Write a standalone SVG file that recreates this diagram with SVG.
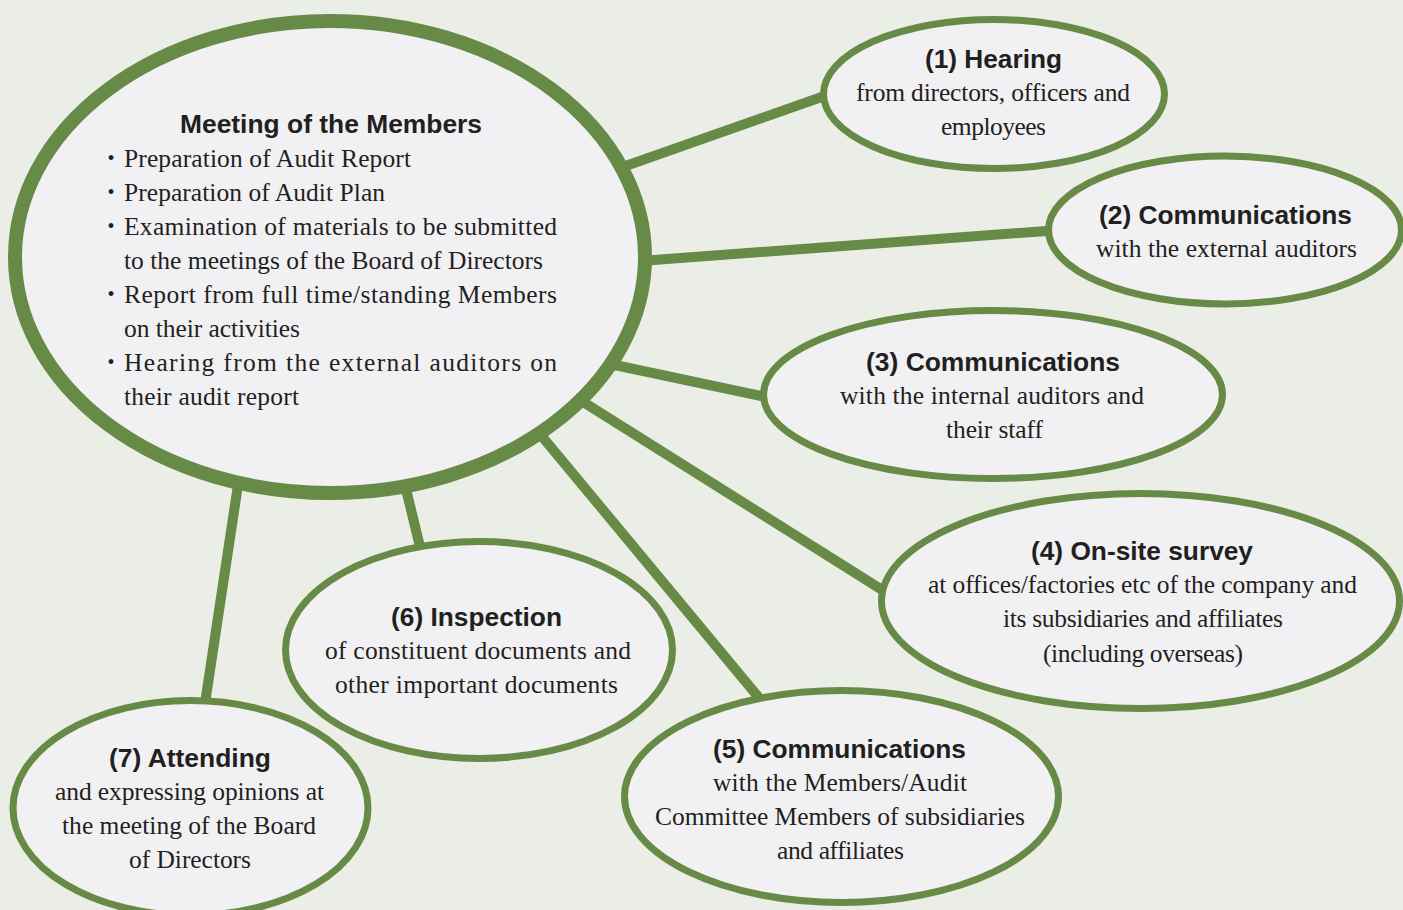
<svg xmlns="http://www.w3.org/2000/svg" width="1403" height="910" viewBox="0 0 1403 910">
<style>
.bg{fill:#ebeee6}
.node{fill:#f1f1f3;stroke:#678a46;stroke-width:7}
.main{stroke-width:14}
.conn line{stroke:#678a46;stroke-width:10;stroke-linecap:butt}
.t{font-family:"Liberation Sans",Arial,sans-serif;font-weight:bold;font-size:26px;fill:#231f20;text-anchor:middle}
.b{font-family:"Liberation Serif","Times New Roman",serif;font-size:25.5px;fill:#231f20;text-anchor:middle}
.l{font-family:"Liberation Serif","Times New Roman",serif;font-size:25.5px;fill:#231f20}
.dot{font-family:"Liberation Serif","Times New Roman",serif;font-size:20px;fill:#231f20;text-anchor:middle}
</style>
<rect class="bg" x="0" y="0" width="1403" height="910"/>
<g id="connectors" class="conn">
<line x1="600" y1="175" x2="850" y2="87"/>
<line x1="640" y1="261" x2="1060" y2="230"/>
<line x1="610" y1="364" x2="775" y2="399"/>
<line x1="580" y1="400" x2="895" y2="598"/>
<line x1="535" y1="428" x2="765" y2="705"/>
<line x1="405" y1="485" x2="422" y2="555"/>
<line x1="238" y1="485" x2="204" y2="710"/>
</g>
<g id="main">
<ellipse class="node main" cx="330" cy="257" rx="315" ry="236"/>
<text class="t" x="331" y="133" textLength="302" lengthAdjust="spacingAndGlyphs">Meeting of the Members</text>
<text class="dot" x="111" y="165">•</text>
<text class="l" x="124" y="167" textLength="287" lengthAdjust="spacing">Preparation of Audit Report</text>
<text class="dot" x="111" y="199">•</text>
<text class="l" x="124" y="201" textLength="261" lengthAdjust="spacing">Preparation of Audit Plan</text>
<text class="dot" x="111" y="233">•</text>
<text class="l" x="124" y="235" textLength="433" lengthAdjust="spacing">Examination of materials to be submitted</text>
<text class="l" x="124" y="269" textLength="419" lengthAdjust="spacing">to the meetings of the Board of Directors</text>
<text class="dot" x="111" y="301">•</text>
<text class="l" x="124" y="303" textLength="433" lengthAdjust="spacing">Report from full time/standing Members</text>
<text class="l" x="124" y="337" textLength="176" lengthAdjust="spacing">on their activities</text>
<text class="dot" x="111" y="369">•</text>
<text class="l" x="124" y="371" textLength="433" lengthAdjust="spacing">Hearing from the external auditors on</text>
<text class="l" x="124" y="405" textLength="175" lengthAdjust="spacing">their audit report</text>
</g>
<g id="n1">
<ellipse class="node" cx="994" cy="94" rx="170.5" ry="74.5"/>
<text class="t" x="993.5" y="68" textLength="137" lengthAdjust="spacingAndGlyphs">(1) Hearing</text>
<text class="b" x="993" y="101" textLength="274" lengthAdjust="spacing">from directors, officers and</text>
<text class="b" x="993.5" y="135" textLength="105" lengthAdjust="spacing">employees</text>
</g>
<g id="n2">
<ellipse class="node" cx="1225" cy="230" rx="176.5" ry="74"/>
<text class="t" x="1225.5" y="224" textLength="253" lengthAdjust="spacingAndGlyphs">(2) Communications</text>
<text class="b" x="1226.5" y="257" textLength="261" lengthAdjust="spacing">with the external auditors</text>
</g>
<g id="n3">
<ellipse class="node" cx="993" cy="394.5" rx="229.5" ry="84"/>
<text class="t" x="993" y="371" textLength="254" lengthAdjust="spacingAndGlyphs">(3) Communications</text>
<text class="b" x="992" y="404" textLength="304" lengthAdjust="spacing">with the internal auditors and</text>
<text class="b" x="994.5" y="438" textLength="97" lengthAdjust="spacing">their staff</text>
</g>
<g id="n4">
<ellipse class="node" cx="1140.5" cy="601" rx="259" ry="107.5"/>
<text class="t" x="1142" y="560" textLength="222" lengthAdjust="spacingAndGlyphs">(4) On-site survey</text>
<text class="b" x="1142.5" y="593" textLength="429" lengthAdjust="spacing">at offices/factories etc of the company and</text>
<text class="b" x="1143" y="627" textLength="280" lengthAdjust="spacing">its subsidiaries and affiliates</text>
<text class="b" x="1143" y="662" textLength="200" lengthAdjust="spacing">(including overseas)</text>
</g>
<g id="n5">
<ellipse class="node" cx="841.5" cy="796.5" rx="217" ry="106"/>
<text class="t" x="839.5" y="758" textLength="253" lengthAdjust="spacingAndGlyphs">(5) Communications</text>
<text class="b" x="840" y="791" textLength="254" lengthAdjust="spacing">with the Members/Audit</text>
<text class="b" x="840" y="825" textLength="370" lengthAdjust="spacing">Committee Members of subsidiaries</text>
<text class="b" x="840.5" y="859" textLength="127" lengthAdjust="spacing">and affiliates</text>
</g>
<g id="n6">
<ellipse class="node" cx="479" cy="650" rx="193.5" ry="108.5"/>
<text class="t" x="476.5" y="626" textLength="171" lengthAdjust="spacingAndGlyphs">(6) Inspection</text>
<text class="b" x="478" y="659" textLength="306" lengthAdjust="spacing">of constituent documents and</text>
<text class="b" x="476.5" y="693" textLength="283" lengthAdjust="spacing">other important documents</text>
</g>
<g id="n7">
<ellipse class="node" cx="190.5" cy="808" rx="177.5" ry="107.5"/>
<text class="t" x="190" y="767" textLength="162" lengthAdjust="spacingAndGlyphs">(7) Attending</text>
<text class="b" x="189.5" y="800" textLength="269" lengthAdjust="spacing">and expressing opinions at</text>
<text class="b" x="189" y="834" textLength="254" lengthAdjust="spacing">the meeting of the Board</text>
<text class="b" x="190" y="868" textLength="122" lengthAdjust="spacing">of Directors</text>
</g>
</svg>
